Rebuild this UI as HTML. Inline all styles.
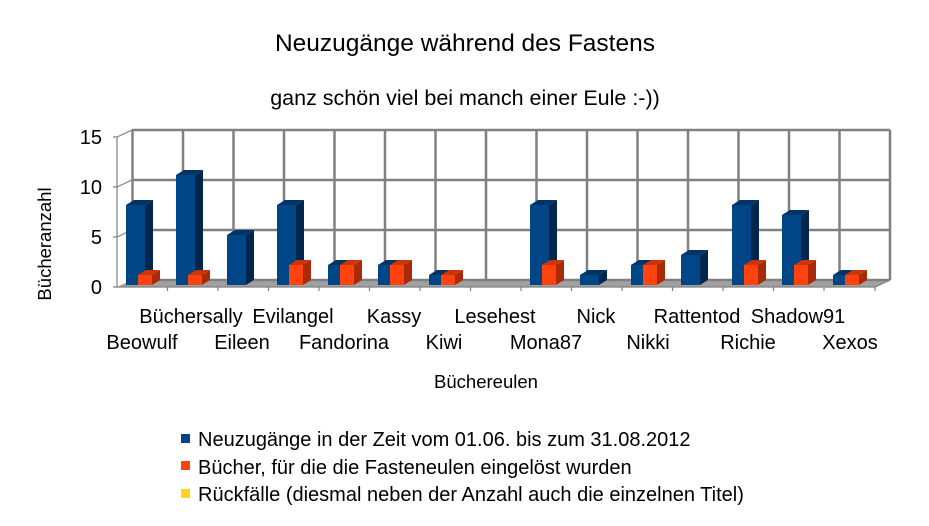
<!DOCTYPE html>
<html><head><meta charset="utf-8"><style>
body{margin:0;background:#fff;}
svg{display:block;font-family:"Liberation Sans",sans-serif;}
</style></head><body>
<svg width="929" height="526" viewBox="0 0 929 526">
<text x="465" y="51" font-size="24.5" text-anchor="middle">Neuzugänge während des Fastens</text>
<text x="465" y="105" font-size="21.5" text-anchor="middle">ganz schön viel bei manch einer Eule :-))</text>
<polygon points="117,287 132,280 890,280 875,287" fill="#a0a0a0"/>
<g stroke="#808080" stroke-width="2.5" fill="none">
<line x1="132" y1="130" x2="890" y2="130"/>
<line x1="132" y1="180" x2="890" y2="180"/>
<line x1="132" y1="230" x2="890" y2="230"/>
<line x1="132" y1="280" x2="890" y2="280"/>
<path d="M132.5 130V280M183 130V280M233.5 130V280M284 130V280M334.5 130V280M385 130V280M435.5 130V280M486 130V280M536.5 130V280M587 130V280M637.5 130V280M688 130V280M738.5 130V280M789 130V280M839.5 130V280M890 130V280"/>
</g>
<g stroke="#808080" stroke-width="1.2" fill="none">
<path d="M117 137V287L875 287L890 280M117 137L132 130M117 187L132 180M117 237L132 230"/>
<path d="M113 137h4M113 187h4M113 237h4M113 287h4M167.5 287v4M218 287v4M268.5 287v4M319 287v4M369.5 287v4M420 287v4M470.5 287v4M521 287v4M571.5 287v4M622 287v4M672.5 287v4M723 287v4M773.5 287v4M824 287v4M875 287v4"/>
</g>
<g font-size="20" text-anchor="end">
<text x="102" y="144">15</text><text x="102" y="194">10</text><text x="102" y="244">5</text><text x="102" y="294">0</text>
</g>
<text transform="translate(51,244) rotate(-90)" font-size="18.5" text-anchor="middle">Bücheranzahl</text>
<g>
<g transform="translate(126,205)"><rect width="19" height="80" fill="#004586"/><path d="M19 0l8-5v80l-8 5z" fill="#00264d"/><path d="M0 0l8-5h19l-8 5z" fill="#003366"/></g>
<g transform="translate(176,175)"><rect width="19" height="110" fill="#004586"/><path d="M19 0l8-5v110l-8 5z" fill="#00264d"/><path d="M0 0l8-5h19l-8 5z" fill="#003366"/></g>
<g transform="translate(227,235)"><rect width="19" height="50" fill="#004586"/><path d="M19 0l8-5v50l-8 5z" fill="#00264d"/><path d="M0 0l8-5h19l-8 5z" fill="#003366"/></g>
<g transform="translate(277,205)"><rect width="19" height="80" fill="#004586"/><path d="M19 0l8-5v80l-8 5z" fill="#00264d"/><path d="M0 0l8-5h19l-8 5z" fill="#003366"/></g>
<g transform="translate(328,265)"><rect width="19" height="20" fill="#004586"/><path d="M19 0l8-5v20l-8 5z" fill="#00264d"/><path d="M0 0l8-5h19l-8 5z" fill="#003366"/></g>
<g transform="translate(378,265)"><rect width="19" height="20" fill="#004586"/><path d="M19 0l8-5v20l-8 5z" fill="#00264d"/><path d="M0 0l8-5h19l-8 5z" fill="#003366"/></g>
<g transform="translate(429,275)"><rect width="19" height="10" fill="#004586"/><path d="M19 0l8-5v10l-8 5z" fill="#00264d"/><path d="M0 0l8-5h19l-8 5z" fill="#003366"/></g>
<g transform="translate(530,205)"><rect width="19" height="80" fill="#004586"/><path d="M19 0l8-5v80l-8 5z" fill="#00264d"/><path d="M0 0l8-5h19l-8 5z" fill="#003366"/></g>
<g transform="translate(580,275)"><rect width="19" height="10" fill="#004586"/><path d="M19 0l8-5v10l-8 5z" fill="#00264d"/><path d="M0 0l8-5h19l-8 5z" fill="#003366"/></g>
<g transform="translate(631,265)"><rect width="19" height="20" fill="#004586"/><path d="M19 0l8-5v20l-8 5z" fill="#00264d"/><path d="M0 0l8-5h19l-8 5z" fill="#003366"/></g>
<g transform="translate(681,255)"><rect width="19" height="30" fill="#004586"/><path d="M19 0l8-5v30l-8 5z" fill="#00264d"/><path d="M0 0l8-5h19l-8 5z" fill="#003366"/></g>
<g transform="translate(732,205)"><rect width="19" height="80" fill="#004586"/><path d="M19 0l8-5v80l-8 5z" fill="#00264d"/><path d="M0 0l8-5h19l-8 5z" fill="#003366"/></g>
<g transform="translate(782,215)"><rect width="19" height="70" fill="#004586"/><path d="M19 0l8-5v70l-8 5z" fill="#00264d"/><path d="M0 0l8-5h19l-8 5z" fill="#003366"/></g>
<g transform="translate(833,275)"><rect width="19" height="10" fill="#004586"/><path d="M19 0l8-5v10l-8 5z" fill="#00264d"/><path d="M0 0l8-5h19l-8 5z" fill="#003366"/></g>
</g>
<g>
<g transform="translate(138,275)"><rect width="14" height="10" fill="#ff420e"/><path d="M14 0l8-5v10l-8 5z" fill="#a82a08"/><path d="M0 0l8-5h14l-8 5z" fill="#cc350b"/></g>
<g transform="translate(188,275)"><rect width="14" height="10" fill="#ff420e"/><path d="M14 0l8-5v10l-8 5z" fill="#a82a08"/><path d="M0 0l8-5h14l-8 5z" fill="#cc350b"/></g>
<g transform="translate(289,265)"><rect width="14" height="20" fill="#ff420e"/><path d="M14 0l8-5v20l-8 5z" fill="#a82a08"/><path d="M0 0l8-5h14l-8 5z" fill="#cc350b"/></g>
<g transform="translate(340,265)"><rect width="14" height="20" fill="#ff420e"/><path d="M14 0l8-5v20l-8 5z" fill="#a82a08"/><path d="M0 0l8-5h14l-8 5z" fill="#cc350b"/></g>
<g transform="translate(390,265)"><rect width="14" height="20" fill="#ff420e"/><path d="M14 0l8-5v20l-8 5z" fill="#a82a08"/><path d="M0 0l8-5h14l-8 5z" fill="#cc350b"/></g>
<g transform="translate(441,275)"><rect width="14" height="10" fill="#ff420e"/><path d="M14 0l8-5v10l-8 5z" fill="#a82a08"/><path d="M0 0l8-5h14l-8 5z" fill="#cc350b"/></g>
<g transform="translate(542,265)"><rect width="14" height="20" fill="#ff420e"/><path d="M14 0l8-5v20l-8 5z" fill="#a82a08"/><path d="M0 0l8-5h14l-8 5z" fill="#cc350b"/></g>
<g transform="translate(643,265)"><rect width="14" height="20" fill="#ff420e"/><path d="M14 0l8-5v20l-8 5z" fill="#a82a08"/><path d="M0 0l8-5h14l-8 5z" fill="#cc350b"/></g>
<g transform="translate(744,265)"><rect width="14" height="20" fill="#ff420e"/><path d="M14 0l8-5v20l-8 5z" fill="#a82a08"/><path d="M0 0l8-5h14l-8 5z" fill="#cc350b"/></g>
<g transform="translate(794,265)"><rect width="14" height="20" fill="#ff420e"/><path d="M14 0l8-5v20l-8 5z" fill="#a82a08"/><path d="M0 0l8-5h14l-8 5z" fill="#cc350b"/></g>
<g transform="translate(845,275)"><rect width="14" height="10" fill="#ff420e"/><path d="M14 0l8-5v10l-8 5z" fill="#a82a08"/><path d="M0 0l8-5h14l-8 5z" fill="#cc350b"/></g>
</g>
<g font-size="20" text-anchor="middle">
<text x="142" y="349">Beowulf</text>
<text x="191" y="323">Büchersally</text>
<text x="242" y="349">Eileen</text>
<text x="293" y="323">Evilangel</text>
<text x="344" y="349">Fandorina</text>
<text x="394" y="323">Kassy</text>
<text x="444" y="349">Kiwi</text>
<text x="495" y="323">Lesehest</text>
<text x="546" y="349">Mona87</text>
<text x="596" y="323">Nick</text>
<text x="648" y="349">Nikki</text>
<text x="697" y="323">Rattentod</text>
<text x="748" y="349">Richie</text>
<text x="798" y="323">Shadow91</text>
<text x="850" y="349">Xexos</text>
</g>
<text x="486" y="388" font-size="18.5" text-anchor="middle">Büchereulen</text>
<rect x="181" y="434" width="9" height="9" fill="#004586"/>
<rect x="181" y="461" width="9" height="9" fill="#ff420e"/>
<rect x="181" y="489" width="9" height="9" fill="#ffd320"/>
<g font-size="20">
<text x="198" y="446">Neuzugänge in der Zeit vom 01.06. bis zum 31.08.2012</text>
<text x="198" y="474">Bücher, für die die Fasteneulen eingelöst wurden</text>
<text x="198" y="501">Rückfälle (diesmal neben der Anzahl auch die einzelnen Titel)</text>
</g>
</svg>
</body></html>
